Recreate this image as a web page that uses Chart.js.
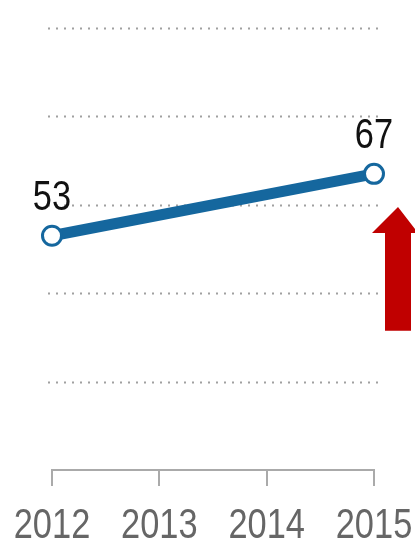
<!DOCTYPE html>
<html>
<head>
<meta charset="utf-8">
<script src="https://cdn.jsdelivr.net/npm/chart.js@4/dist/chart.umd.min.js"></script>
<style>
  html, body { margin: 0; padding: 0; background: #fff; }
  #wrap { width: 415px; height: 541px; position: relative; }
</style>
</head>
<body>
<div id="wrap"><canvas id="c"></canvas></div>
<script>
// Values shown on the line
const years = ['2012', '2013', '2014', '2015'];
const values = [53, null, null, 67];
const gridValues = [20, 40, 60, 80, 100];

const FONT = '"Liberation Sans", Arial, sans-serif';
const BLUE = '#15679e';
const SQUEEZE = 0.8; // horizontal condensing of all text

function narrowText(ctx, text, x, y) {
  ctx.save();
  ctx.translate(x, y);
  ctx.scale(SQUEEZE, 1);
  ctx.fillText(text, 0, 0);
  ctx.restore();
}

// Dotted horizontal guides, drawn a little wider than the plot area
const guides = {
  id: 'guides',
  beforeDatasetsDraw(chart) {
    const { ctx, chartArea, scales } = chart;
    ctx.save();
    ctx.strokeStyle = '#a0a0a0';
    ctx.lineWidth = 2;
    ctx.setLineDash([2, 6]);
    gridValues.forEach(v => {
      const y = Math.round(scales.y.getPixelForValue(v)) + 0.5;
      ctx.beginPath();
      ctx.moveTo(chartArea.left - 4, y);
      ctx.lineTo(chartArea.right + 4, y);
      ctx.stroke();
    });
    ctx.restore();
  }
};

// Year labels, value labels above the points, and the red up-arrow
const labels = {
  id: 'labels',
  afterDatasetsDraw(chart) {
    const { ctx, chartArea, scales } = chart;
    const meta = chart.getDatasetMeta(0);
    ctx.save();
    ctx.font = '43px ' + FONT;
    ctx.textAlign = 'center';
    ctx.textBaseline = 'alphabetic';

    ctx.fillStyle = '#666';
    years.forEach((yr, i) => {
      narrowText(ctx, yr, scales.x.getPixelForTick(i), chartArea.bottom + 68);
    });

    ctx.fillStyle = '#111';
    meta.data.forEach((pt, i) => {
      if (values[i] == null) return;
      narrowText(ctx, String(values[i]), pt.x, pt.y - 26);
    });

    // arrow
    const x0 = chartArea.right;
    const tipY = scales.y.getPixelForValue(arrowTip);
    const baseY = scales.y.getPixelForValue(arrowBase);
    const headY = tipY + 26;
    ctx.fillStyle = '#c00000';
    ctx.beginPath();
    ctx.moveTo(x0 + 24, tipY);
    ctx.lineTo(x0 + 44, headY);
    ctx.lineTo(x0 + 37, headY);
    ctx.lineTo(x0 + 37, baseY);
    ctx.lineTo(x0 + 11, baseY);
    ctx.lineTo(x0 + 11, headY);
    ctx.lineTo(x0 - 2, headY);
    ctx.closePath();
    ctx.fill();
    ctx.restore();
  }
};
const arrowTip = 59.5;
const arrowBase = 31.5;

new Chart(document.getElementById('c'), {
  type: 'line',
  data: {
    labels: years,
    datasets: [{
      data: values,
      spanGaps: true,
      borderColor: BLUE,
      borderWidth: 11,
      pointRadius: 9.5,
      pointBorderWidth: 3,
      pointBackgroundColor: '#fff',
      pointBorderColor: BLUE,
      tension: 0,
      clip: false
    }]
  },
  options: {
    responsive: true,
    maintainAspectRatio: false,
    animation: false,
    layout: { padding: { left: 52, right: 41, top: 28, bottom: 0 } },
    plugins: { legend: { display: false }, tooltip: { enabled: false } },
    scales: {
      y: { display: false, min: 0, max: 100 },
      x: {
        offset: false,
        afterFit(scale) { scale.height = 71; },
        border: { display: true, color: '#aaa', width: 2 },
        grid: { drawOnChartArea: false, drawTicks: true, color: '#aaa', lineWidth: 2, tickLength: 16 },
        ticks: { display: false, autoSkip: false }
      }
    }
  },
  plugins: [guides, labels]
});
</script>
</body>
</html>
